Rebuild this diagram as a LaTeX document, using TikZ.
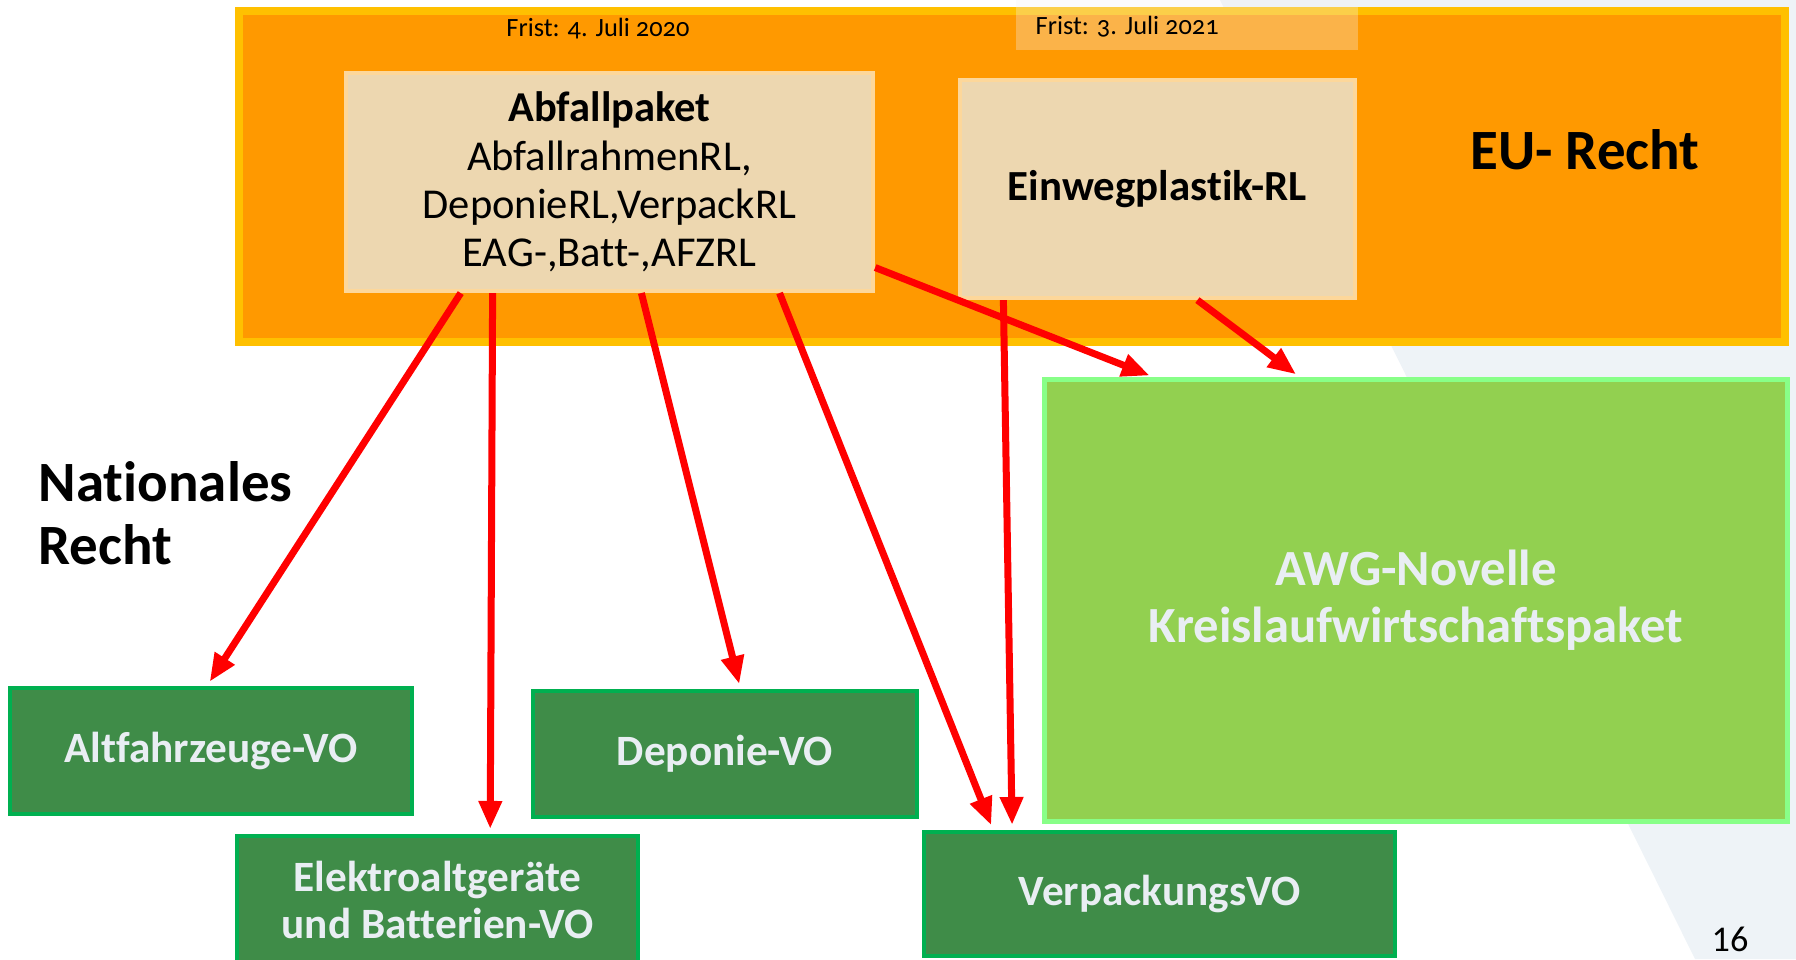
\documentclass[tikz,border=0pt]{standalone}
\usepackage{fontspec}
\setmainfont{Carlito}[Ligatures=NoCommon]
\newfontfamily\fristfont{Carlito}[Numbers=OldStyle, Ligatures=NoCommon]
\definecolor{euOrange}{HTML}{FF9900}
\definecolor{euGold}{HTML}{FFC000}
\definecolor{rlBeige}{HTML}{EDD7B0}
\definecolor{rlEdge}{HTML}{FDD79A}
\definecolor{voGreen}{HTML}{3F8C48}
\definecolor{voEdge}{HTML}{00B050}
\definecolor{awgGreen}{HTML}{92D050}
\definecolor{awgEdge}{HTML}{88FF88}
\definecolor{voText}{HTML}{E9EEF3}
\definecolor{slideBlue}{HTML}{EEF3F7}
\usetikzlibrary{arrows.meta, positioning, calc}
\tikzset{
    eu node/.style={rectangle, draw=euGold, fill=euOrange, line width=0.08cm, inner sep=0pt},
    rl node/.style={rectangle, draw=rlEdge, fill=rlBeige, line width=0.04cm, inner sep=0pt, align=center, font=\fontsize{12.1}{13.7}\selectfont},
    vo node/.style={rectangle, draw=voEdge, fill=voGreen, line width=0.04cm, inner sep=0pt, align=center, text=voText, font=\bfseries\fontsize{12.3}{13.4}\selectfont},
    awg node/.style={rectangle, draw=awgEdge, fill=awgGreen, line width=0.05cm, inner sep=0pt, align=center, text=voText, font=\bfseries\fontsize{14.4}{16.2}\selectfont},
    frist node/.style={inner sep=0pt, font=\fristfont\fontsize{7.5}{9}\selectfont},
    title node/.style={inner sep=0pt, align=left, font=\bfseries\fontsize{16.2}{17.9}\selectfont},
    arrow style/.style={-{Triangle[length=0.28cm, width=0.22cm]}, line width=0.07cm, red, shorten >=0.05cm},
}

\begin{document}
\begin{tikzpicture}[x=0.01cm, y=-0.01cm]
    \useasboundingbox (0,0) rectangle (1796,959);
    \clip (0,0) rectangle (1796,959);
    \fill[slideBlue] (1220,0) -- (1796,0) -- (1796,959) -- (1695,959) -- cycle;

    % EU level
    \node[eu node, minimum width=15.46cm, minimum height=3.31cm] (eu) at (1012,176.5) {};
    \node[fill=white!90!gray, fill opacity=0.3, minimum width=3.42cm, minimum height=0.5cm, inner sep=0pt] (band) at (1187,25) {};
    \node[frist node] (frist20) at (598,29) {Frist: 4. Juli 2020};
    \node[frist node, anchor=west] (frist21) at (1035,27) {Frist: 3. Juli 2021};
    \node[rl node, minimum width=5.27cm, minimum height=2.18cm] (abf) at (609.5,182)
        {\textbf{Abfallpaket}\\AbfallrahmenRL,\\DeponieRL,VerpackRL\\EAG-,Batt-,AFZRL};
    \node[rl node, minimum width=3.95cm, minimum height=2.18cm, font=\bfseries\fontsize{12.2}{13.7}\selectfont] (ewp) at (1157.5,189) {Einwegplastik-RL};
    \node[title node] (eurecht) at (1585,150) {EU- Recht};

    % national level
    \node[title node, anchor=west] (natrecht) at (38,513) {Nationales\\Recht};
    \node[awg node, minimum width=7.42cm, minimum height=4.41cm] (awg) at (1416,600.5) {AWG-Novelle\\Kreislaufwirtschaftspaket};
    \node[vo node, minimum width=4.02cm, minimum height=1.26cm] (alt) at (211,751) {Altfahrzeuge-VO};
    \node[vo node, minimum width=3.84cm, minimum height=1.26cm] (dep) at (725,754) {Deponie-VO};
    \node[vo node, minimum width=4.01cm, minimum height=1.28cm] (elek) at (437.5,900) {Elektroaltgeräte\\und Batterien-VO};
    \node[vo node, minimum width=4.71cm, minimum height=1.24cm] (verp) at (1159.5,894) {VerpackungsVO};
    \node[inner sep=0pt, font=\fontsize{10.3}{12}\selectfont] (pagenum) at (1730,939) {16};

    \draw[arrow style] ($(abf.south west)!0.22!(abf.south east)$) -- ($(alt.north west)!0.49!(alt.north east)$);
    \draw[arrow style] ($(abf.south west)!0.28!(abf.south east)$) -- ($(elek.north west)!0.63!(elek.north east)$);
    \draw[arrow style] ($(abf.south west)!0.56!(abf.south east)$) -- ($(dep.north west)!0.54!(dep.north east)$);
    \draw[arrow style] ($(abf.south west)!0.82!(abf.south east)$) -- ($(verp.north west)!0.15!(verp.north east)$);
    \draw[arrow style] ($(abf.north east)!0.885!(abf.south east)$) -- ($(awg.north west)!0.15!(awg.north east)$);
    \draw[arrow style] ($(ewp.south west)!0.114!(ewp.south east)$) -- ($(verp.north west)!0.19!(verp.north east)$);
    \draw[arrow style] ($(ewp.south west)!0.6!(ewp.south east)$) -- ($(awg.north west)!0.345!(awg.north east)$);
\end{tikzpicture}
\end{document}
